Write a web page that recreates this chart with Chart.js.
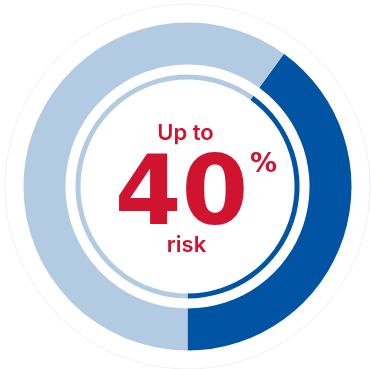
<!DOCTYPE html>
<html>
<head>
<meta charset="utf-8">
<script src="https://cdn.jsdelivr.net/npm/chart.js@4.4.1/dist/chart.umd.min.js"></script>
<style>
  body { margin: 0; background: #fff; }
  #wrap { width: 371px; height: 369px; position: relative; }
</style>
</head>
<body>
<div id="wrap"><canvas id="risk-chart"></canvas></div>
<script>
// valores do gráfico
const riskLabels = ["Risk", "Rest"];
const riskValues = [40, 60];
const headline = "40";
const textTop = "Up to";
const textBottom = "risk";

const DARK = "#0054a3";
const LIGHT = "#b3cbe2";
const RED = "#d0132e";

const ctx = document.getElementById("risk-chart");

// textos no centro
const centerText = {
    id: "centerText",
    afterDraw(chart) {
        const c = chart.ctx;
        const area = chart.chartArea;
        const cx = (area.left + area.right) / 2;
        const cy = (area.top + area.bottom) / 2;
        c.save();
        c.fillStyle = RED;
        c.textAlign = "center";
        c.textBaseline = "alphabetic";
        c.font = "600 22px Inter";
        c.fillText(textTop, cx - 2, cy - 47);
        c.font = "bold 96px 'DejaVu Sans'";
        c.fillText(headline, cx - 6, cy + 37);
        c.font = "bold 27px 'DejaVu Sans'";
        c.fillText("%", cx + 76, cy - 15);
        c.font = "600 22px Inter";
        c.fillText(textBottom, cx - 1, cy + 65);
        c.restore();
    }
};

new Chart(ctx, {
    type: "doughnut",
    data: {
        labels: riskLabels,
        datasets: [
            { data: [1], backgroundColor: ["#eef1f6"], weight: 1 },
            { data: [1], backgroundColor: ["rgba(0,0,0,0)"], weight: 18 },
            { data: riskValues, backgroundColor: [DARK, LIGHT], weight: 42 },
            { data: [1], backgroundColor: ["rgba(0,0,0,0)"], weight: 10 },
            { data: riskValues, backgroundColor: [DARK, LIGHT], weight: 5 }
        ]
    },
    options: {
        responsive: true,
        maintainAspectRatio: false,
        animation: false,
        radius: 183,
        cutout: "58.5%",
        rotation: 36,
        borderWidth: 0,
        layout: { padding: { left: 4, top: 4 } },
        plugins: {
            legend: { display: false },
            tooltip: { enabled: false }
        }
    },
    plugins: [centerText]
});
</script>
</body>
</html>
